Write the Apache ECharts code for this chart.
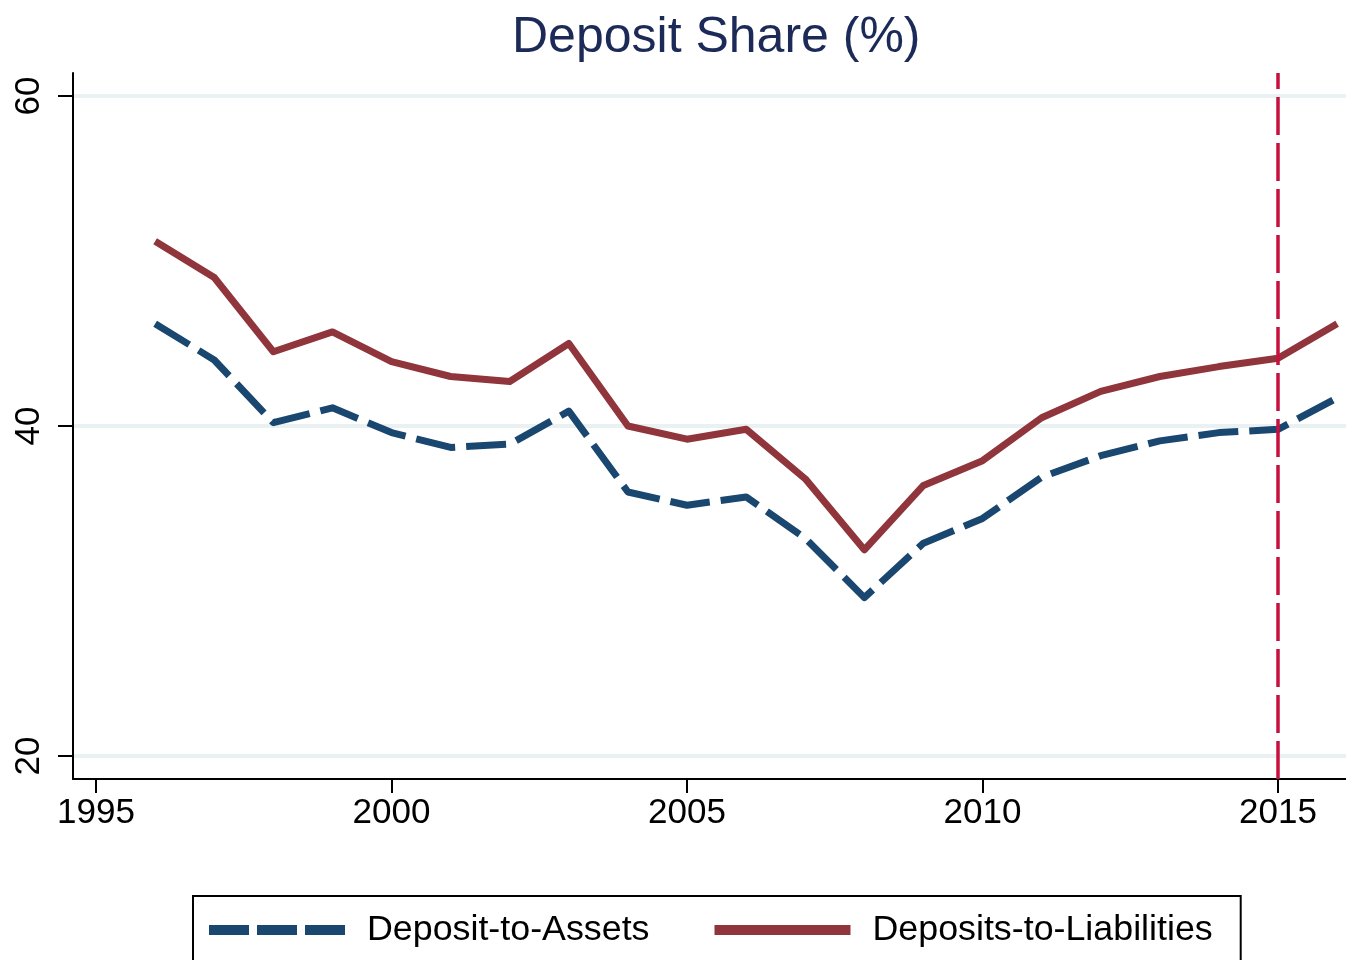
<!DOCTYPE html>
<html>
<head>
<meta charset="utf-8">
<script src="https://cdn.jsdelivr.net/npm/echarts@6/dist/echarts.min.js"></script>
<style>
  html, body { margin: 0; padding: 0; background: #fff; }
  #chart { width: 1346px; height: 960px; }
</style>
</head>
<body>
<div id="chart"></div>
<script>
const years = [1996, 1997, 1998, 1999, 2000, 2001, 2002, 2003, 2004, 2005, 2006,
               2007, 2008, 2009, 2010, 2011, 2012, 2013, 2014, 2015, 2016];
const depositToAssets = [46.2, 44.0, 40.2, 41.1, 39.6, 38.7, 38.9, 40.9, 36.0, 35.2, 35.7,
                         33.2, 29.6, 32.9, 34.4, 36.9, 38.2, 39.1, 39.6, 39.8, 41.7];
const depositsToLiabilities = [51.2, 49.0, 44.5, 45.7, 43.9, 43.0, 42.7, 45.0, 40.0, 39.2, 39.8,
                               36.8, 32.5, 36.4, 37.9, 40.5, 42.1, 43.0, 43.6, 44.1, 46.2];
const xTicks = [1995, 2000, 2005, 2010, 2015];
const yTicks = [20, 40, 60];
const markYear = 2015;

const FONT = "'Liberation Sans', Arial, sans-serif";
const BLUE = '#1a476f';
const RED = '#90353b';

const chart = echarts.init(document.getElementById('chart'));

chart.setOption({
    animation: false,
    title: {
        text: 'Deposit Share (%)',
        left: 507,
        top: 8,
        textStyle: { fontFamily: FONT, fontSize: 50, fontWeight: 'normal', color: '#1c2a58' }
    },
    grid: { left: 73, right: 0, top: 73, bottom: 181, containLabel: false },
    legend: {
        left: 193,
        top: 896,
        orient: 'horizontal',
        padding: [16, 28, 20, 11],
        borderColor: '#000',
        borderWidth: 2,
        itemWidth: 136,
        itemHeight: 14,
        itemGap: 60,
        itemStyle: { opacity: 0, borderWidth: 0 },
        textStyle: { fontFamily: FONT, fontSize: 35.8, color: '#000', padding: [0, 0, 0, 17] },
        data: [
            { name: 'Deposit-to-Assets', lineStyle: { width: 10, type: [40, 8] } },
            { name: 'Deposits-to-Liabilities', lineStyle: { width: 10 } }
        ]
    },
    xAxis: {
        type: 'value',
        min: 1994.61,
        max: 2016.15,
        axisLine: { show: true, lineStyle: { color: '#000', width: 2 } },
        axisTick: { show: true, length: 14, lineStyle: { color: '#000', width: 2 }, customValues: xTicks },
        axisLabel: {
            customValues: xTicks, margin: 17, fontFamily: FONT, fontSize: 35, color: '#000',
            formatter: v => String(v)
        },
        splitLine: { show: false }
    },
    yAxis: {
        type: 'value',
        min: 18.61,
        max: 61.39,
        axisLine: { show: true, lineStyle: { color: '#000', width: 2 } },
        axisTick: { show: true, length: 15, lineStyle: { color: '#000', width: 2 }, customValues: yTicks },
        axisLabel: {
            customValues: yTicks, rotate: 90, margin: 26, fontFamily: FONT, fontSize: 35, color: '#000',
            formatter: v => String(v)
        },
        splitLine: { show: true, lineStyle: { color: '#eaf1f2', width: 4 } }
    },
    series: [
        {
            name: 'Deposit-to-Assets',
            type: 'line',
            data: years.map((y, i) => [y, depositToAssets[i]]),
            symbol: 'none',
            lineStyle: { color: BLUE, width: 7, type: [40, 11], join: 'round' },
            itemStyle: { color: BLUE },
            z: 3
        },
        {
            name: 'Deposits-to-Liabilities',
            type: 'line',
            data: years.map((y, i) => [y, depositsToLiabilities[i]]),
            symbol: 'none',
            lineStyle: { color: RED, width: 7, join: 'round' },
            itemStyle: { color: RED },
            z: 3,
            markLine: {
                silent: true,
                symbol: 'none',
                label: { show: false },
                lineStyle: { color: '#c8103e', width: 3.5, type: [38, 8], opacity: 1 },
                data: [{ xAxis: markYear }],
                z: 4
            }
        }
    ]
});
</script>
</body>
</html>
